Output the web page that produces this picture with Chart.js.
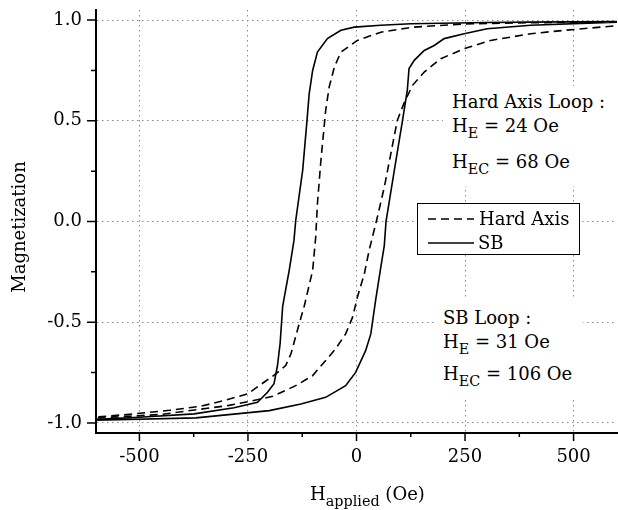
<!DOCTYPE html>
<html>
<head>
<meta charset="utf-8">
<script src="https://cdn.jsdelivr.net/npm/chart.js@4.4.1/dist/chart.umd.min.js"></script>
<style>
  html, body { margin: 0; padding: 0; background: #fff; }
  #wrap { position: relative; width: 618px; height: 510px; font-family: "DejaVu Serif", serif; color: #000; }
  #chart { position: absolute; left: 0; top: 0; }
  .txt { position: absolute; white-space: nowrap; font-size: 18px; line-height: 18px; }
  .txt sub { font-size: 0.8em; vertical-align: -0.45em; line-height: 0; }
  .mask { position: absolute; background: #fff; }
  #legend { position: absolute; left: 417px; top: 203px; width: 161px; height: 50px; border: 1px solid #000; background: #fff; }
  #legend svg { position: absolute; left: 10px; }
  #ytitle { position: absolute; left: -81.5px; top: 218px; width: 200px; text-align: center; font-size: 18px; line-height: 18px; transform: rotate(-90deg); }
  #xtitle { position: absolute; left: 310px; top: 485px; font-size: 18px; line-height: 18px; white-space: nowrap; }
  #xtitle sub { font-size: 0.8em; vertical-align: -0.4em; line-height: 0; }
</style>
</head>
<body>
<div id="wrap">
  <canvas id="chart" width="618" height="510"></canvas>

  <div class="mask" style="left:443px; top:86px; width:175px; height:100px;"></div>
  <div class="txt" style="left:452px; top:93px;">Hard Axis Loop :</div>
  <div class="txt" style="left:452px; top:117px;">H<sub>E</sub> = 24 Oe</div>
  <div class="txt" style="left:452px; top:153px;">H<sub>EC</sub> = 68 Oe</div>

  <div class="mask" style="left:437px; top:297px; width:146px; height:103px;"></div>
  <div class="txt" style="left:443px; top:309px;">SB Loop :</div>
  <div class="txt" style="left:443px; top:333px;">H<sub>E</sub> = 31 Oe</div>
  <div class="txt" style="left:443px; top:365px;">H<sub>EC</sub> = 106 Oe</div>

  <div id="legend">
    <svg width="46" height="4" style="top:13px"><line x1="0" y1="2" x2="46" y2="2" stroke="#000" stroke-width="1.6" stroke-dasharray="8,5"></line></svg>
    <div class="txt" style="left:61px; top:6px;">Hard Axis</div>
    <svg width="46" height="4" style="top:37px"><line x1="0" y1="2" x2="46" y2="2" stroke="#000" stroke-width="1.6"></line></svg>
    <div class="txt" style="left:60px; top:30px;">SB</div>
  </div>

  <div id="ytitle">Magnetization</div>
  <div id="xtitle">H<sub>applied</sub> (Oe)</div>
</div>

<script>
// tick labels
const xTicks = [-500, -250, 0, 250, 500];
const yTicks = [-1.0, -0.5, 0.0, 0.5, 1.0];

// hard axis loop, descending branch (from +600 Oe down)
const hardDownH = [600, 400, 250, 132, 56, 2, -36, -51, -63, -71, -82, -90, -94, -101, -120, -132, -151, -163, -186, -213, -251, -300, -358, -430, -512, -600];
const hardDownM = [0.99, 0.987, 0.981, 0.965, 0.94, 0.899, 0.841, 0.767, 0.667, 0.551, 0.303, 0.088, -0.078, -0.243, -0.417, -0.508, -0.657, -0.715, -0.757, -0.798, -0.856, -0.886, -0.917, -0.937, -0.955, -0.971];
// hard axis loop, ascending branch
const hardUpH = [-600, -450, -297, -247, -193, -140, -101, -71, -48, -25, -9, 2, 18, 29, 48, 64, 79, 94, 110, 129, 156, 194, 248, 309, 401, 478, 600];
const hardUpM = [-0.976, -0.958, -0.914, -0.893, -0.868, -0.815, -0.765, -0.69, -0.632, -0.558, -0.475, -0.376, -0.26, -0.144, 0.021, 0.17, 0.336, 0.502, 0.59, 0.676, 0.742, 0.808, 0.858, 0.899, 0.932, 0.949, 0.972];

// SB loop, descending branch
const sbDownH = [600, 400, 300, 125, 56, -5, -36, -67, -90, -101, -109, -114, -124, -140, -144, -155, -170, -176, -182, -190, -205, -228, -282, -374, -500, -600];
const sbDownM = [0.993, 0.99, 0.988, 0.982, 0.974, 0.965, 0.949, 0.908, 0.841, 0.75, 0.634, 0.502, 0.254, 0.005, -0.094, -0.243, -0.42, -0.607, -0.715, -0.805, -0.848, -0.898, -0.925, -0.955, -0.972, -0.982];
// SB loop, ascending branch
const sbUpH = [-600, -370, -201, -128, -71, -25, -2, 21, 33, 44, 56, 64, 68, 87, 106, 117, 121, 133, 156, 179, 202, 248, 301, 401, 600];
const sbUpM = [-0.987, -0.975, -0.939, -0.906, -0.873, -0.815, -0.749, -0.641, -0.558, -0.392, -0.227, -0.12, 0.0, 0.253, 0.502, 0.651, 0.759, 0.80, 0.849, 0.874, 0.908, 0.932, 0.957, 0.974, 0.99];

function toPoints(hs, ms) {
  return hs.map((h, i) => ({ x: h, y: ms[i] }));
}

const hardLoop = toPoints(hardDownH, hardDownM).concat(toPoints(hardUpH, hardUpM));
const sbLoop = toPoints(sbDownH, sbDownM).concat(toPoints(sbUpH, sbUpM));

const serif = "'DejaVu Serif', serif";

// outward major / minor tick marks on both axes
const tickMarks = {
  id: 'tickMarks',
  afterDraw(chart) {
    const ctx = chart.ctx;
    const xs = chart.scales.x, ys = chart.scales.y;
    const area = chart.chartArea;
    ctx.save();
    ctx.strokeStyle = '#000';
    ctx.lineWidth = 1.5;
    ctx.beginPath();
    xTicks.forEach((v, i) => {
      const px = xs.getPixelForValue(v);
      ctx.moveTo(px, area.bottom); ctx.lineTo(px, area.bottom + 8);
      if (i < xTicks.length - 1) {
        const mx = xs.getPixelForValue((v + xTicks[i + 1]) / 2);
        ctx.moveTo(mx, area.bottom); ctx.lineTo(mx, area.bottom + 4);
      }
    });
    yTicks.forEach((v, i) => {
      const py = ys.getPixelForValue(v);
      ctx.moveTo(area.left, py); ctx.lineTo(area.left - 9, py);
      if (i < yTicks.length - 1) {
        const my = ys.getPixelForValue((v + yTicks[i + 1]) / 2);
        ctx.moveTo(area.left, my); ctx.lineTo(area.left - 5, my);
      }
    });
    ctx.stroke();
    ctx.restore();
  }
};

new Chart(document.getElementById('chart'), {
  type: 'scatter',
  data: {
    datasets: [
      { label: 'Hard Axis', data: hardLoop, showLine: true, borderColor: '#000', borderWidth: 1.6,
        borderDash: [8, 5], pointRadius: 0, tension: 0, fill: false },
      { label: 'SB', data: sbLoop, showLine: true, borderColor: '#000', borderWidth: 1.6,
        pointRadius: 0, tension: 0, fill: false }
    ]
  },
  options: {
    responsive: false,
    animation: false,
    layout: { padding: { top: 10, right: 1, left: 0, bottom: 0 } },
    plugins: { legend: { display: false }, tooltip: { enabled: false } },
    scales: {
      x: {
        type: 'linear', min: -600, max: 600,
        afterBuildTicks: s => { s.ticks = xTicks.map(v => ({ value: v })); },
        afterFit: s => { s.height = 77; s.paddingLeft = 0; s.paddingRight = 0; },
        grid: { color: '#8a8a8a', lineWidth: 1, drawTicks: false },
        border: { color: '#000', width: 2, dash: [1.5, 3.5] },
        ticks: { padding: 14, color: '#000', font: { family: serif, size: 18 }, maxRotation: 0 }
      },
      y: {
        type: 'linear', min: -1.05, max: 1.05,
        afterBuildTicks: s => { s.ticks = yTicks.map(v => ({ value: v })); },
        afterFit: s => { s.width = 96; s.paddingTop = 0; s.paddingBottom = 0; },
        grid: { color: '#8a8a8a', lineWidth: 1, drawTicks: false },
        border: { color: '#000', width: 2, dash: [1.5, 3.5] },
        ticks: { padding: 14, color: '#000', font: { family: serif, size: 18 }, callback: v => v.toFixed(1) }
      }
    }
  },
  plugins: [tickMarks]
});
</script>
</body>
</html>
